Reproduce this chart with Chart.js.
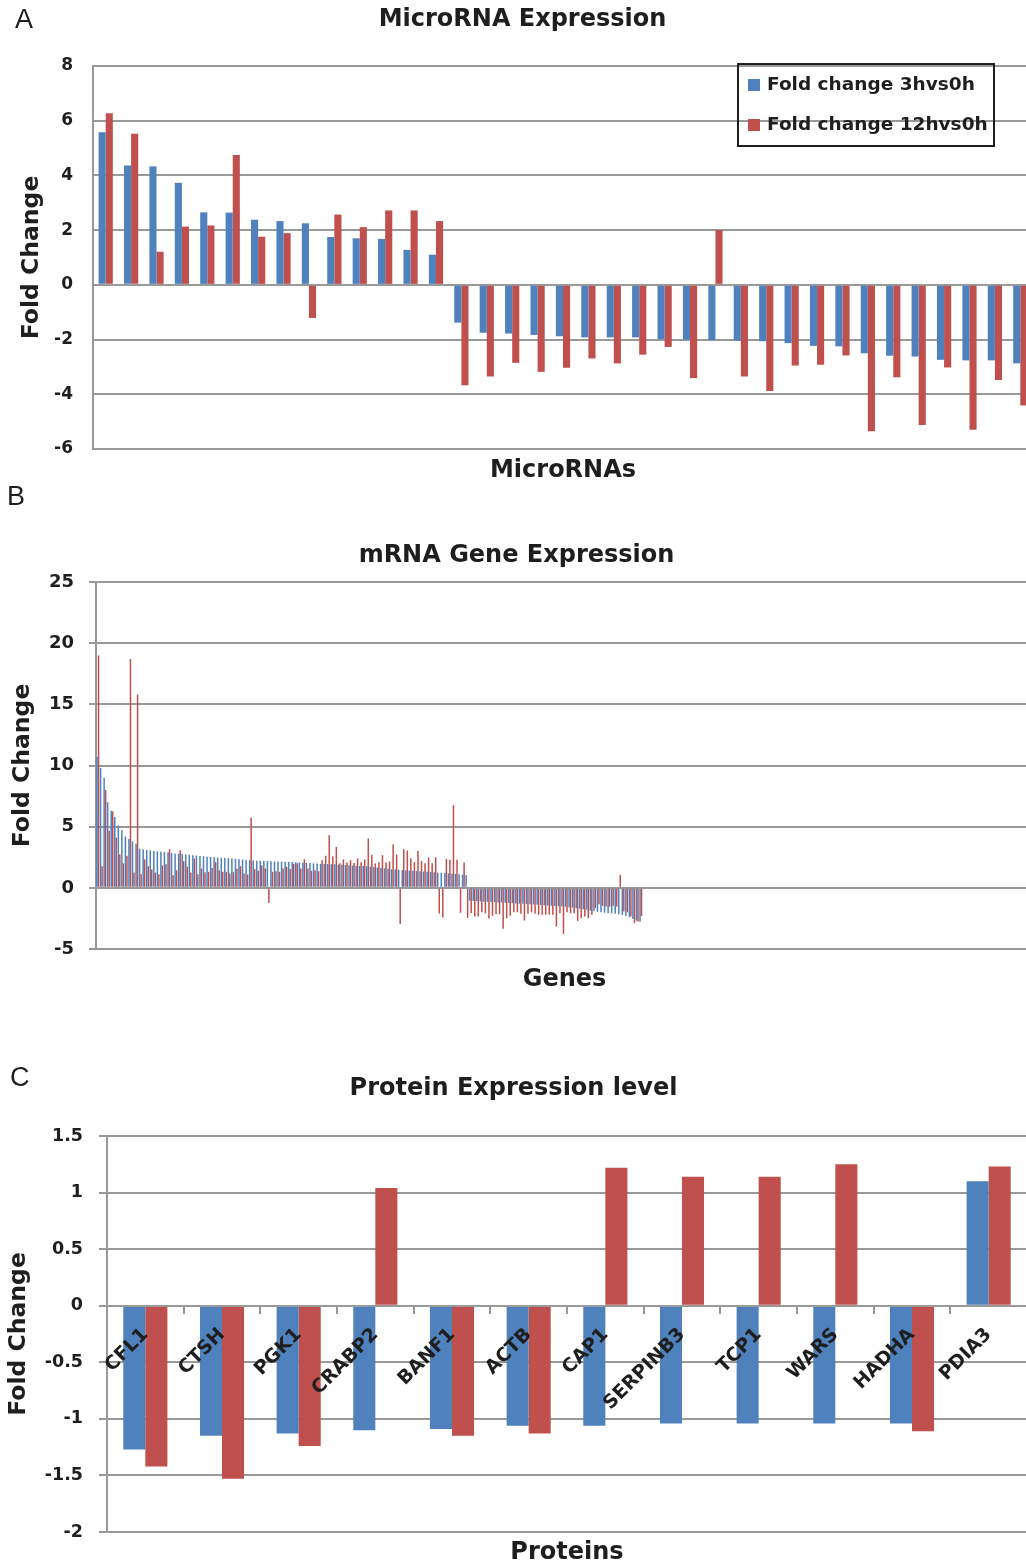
<!DOCTYPE html>
<html>
<head>
<meta charset="utf-8">
<script src="https://cdn.jsdelivr.net/npm/chart.js@4.4.0/dist/chart.umd.min.js"></script>
<style>
  html, body { margin: 0; padding: 0; background: #ffffff; overflow: hidden; width: 1026px; height: 1568px; }
  canvas { position: absolute; left: 0; display: block; }
  .lab { position: absolute; font-family: "Liberation Sans", Arial, sans-serif; font-size: 27px; line-height: 27px; color: #1e1e1e; }
</style>
</head>
<body>
<canvas id="chartA" width="1040" height="495" style="top:0px"></canvas>
<canvas id="chartB" width="1040" height="510" style="top:500px"></canvas>
<canvas id="chartC" width="1040" height="528" style="top:1040px"></canvas>
<div class="lab" style="left:15px;top:6px">A</div>
<div class="lab" style="left:7px;top:483px">B</div>
<div class="lab" style="left:10px;top:1064px">C</div>
<script>
// ---------------- DATA ----------------
const seriesNames = ['Fold change 3hvs0h', 'Fold change 12hvs0h'];

// Panel A: microRNAs (37 microRNAs, names not shown on the axis)
const miRNA_3h = [5.58, 4.36, 4.33, 3.73, 2.65, 2.64, 2.38, 2.33, 2.25, 1.75, 1.70, 1.68, 1.28, 1.10,
  -1.38, -1.75, -1.78, -1.83, -1.88, -1.92, -1.92, -1.92, -1.99, -2.00, -2.02, -2.04, -2.06, -2.13,
  -2.23, -2.25, -2.50, -2.59, -2.62, -2.74, -2.76, -2.76, -2.87];
const miRNA_12h = [6.27, 5.52, 1.21, 2.13, 2.17, 4.75, 1.76, 1.89, -1.21, 2.57, 2.11, 2.72, 2.72, 2.33,
  -3.67, -3.35, -2.85, -3.18, -3.03, -2.69, -2.87, -2.55, -2.27, -3.41, 2.00, -3.35, -3.88, -2.95,
  -2.92, -2.58, -5.35, -3.38, -5.12, -3.02, -5.30, -3.48, -4.41];
const miRNA_ticks = [-6, -4, -2, 0, 2, 4, 6, 8];

// Panel B: mRNA genes (154 genes)
const gene_3h = [10.7, 9.8, 9.0, 7.0, 6.3, 5.8, 5.1, 4.7, 4.2, 4.0, 3.8, 3.6, 3.2, 3.15, 3.1, 3.06, 3.02, 2.98, 2.95, 2.92,
  2.88, 2.85, 2.81, 2.78, 2.76, 2.73, 2.70, 2.67, 2.64, 2.61, 2.58, 2.55, 2.52, 2.50, 2.48, 2.46, 2.44, 2.42, 2.40, 2.37,
  2.34, 2.31, 2.28, 2.26, 2.24, 2.22, 2.21, 2.20, 2.19, 2.17, 2.16, 2.15, 2.14, 2.13, 2.12, 2.11, 2.10, 2.08, 2.06, 2.04,
  2.02, 2.00, 1.98, 1.96, 1.95, 1.94, 1.93, 1.92, 1.90, 1.88, 1.86, 1.84, 1.82, 1.80, 1.79, 1.78, 1.76, 1.73, 1.70, 1.66,
  1.63, 1.60, 1.56, 1.52, 1.49, 1.47, 1.45, 1.43, 1.41, 1.39, 1.37, 1.35, 1.33, 1.31, 1.29, 1.27, 1.25, 1.23, 1.21, 1.19,
  1.16, 1.14, 1.11, 1.08, 1.05,
  -1.05, -1.07, -1.09, -1.11, -1.13, -1.14, -1.16, -1.17, -1.19, -1.20, -1.22, -1.24, -1.26, -1.28, -1.30, -1.31, -1.33,
  -1.34, -1.36, -1.38, -1.40, -1.42, -1.44, -1.46, -1.48, -1.50, -1.52, -1.55, -1.58, -1.62, -1.66, -1.70, -1.75, -1.80,
  -1.86, -1.92, -1.97, -2.00, -2.03, -2.06, -2.09, -2.12, -2.16, -2.22, -2.30, -2.40, -2.55, -2.68, -2.78];
const gene_12h = [19.0, 1.77, 8.0, 4.66, 6.24, 4.1, 2.72, 2.0, 2.62, 18.7, 1.25, 15.8, 1.12, 2.32, 1.77, 1.5, 1.25, 1.12, 1.83, 1.93,
  3.16, 1.03, 1.44, 3.08, 2.18, 1.72, 1.25, 2.4, 1.12, 1.58, 1.28, 1.31, 1.63, 2.1, 1.44, 1.31, 1.31, 1.17, 1.28, 1.55,
  1.77, 1.17, 1.09, 5.75, 1.53, 1.39, 1.83, 1.58, -1.23, 1.31, 1.36, 1.31, 1.58, 1.72, 1.53, 1.96, 2.0, 1.58, 2.34, 1.58,
  1.39, 1.44, 1.36, 2.26, 2.62, 4.3, 2.59, 3.35, 2.0, 2.32, 2.07, 2.26, 2.04, 2.4, 2.1, 2.32, 4.03, 2.7, 2.0, 2.1,
  2.67, 2.07, 2.15, 3.57, 2.72, -2.95, 3.15, 3.05, 2.42, 2.1, 3.02, 2.2, 2.0, 2.48, 2.0, 2.5, -2.1, -2.43, 2.37, 2.29,
  6.75, 2.29, -2.04, 2.07, -2.45,
  -2.07, -2.34, -2.34, -2.0, -2.07, -2.5, -2.29, -2.15, -2.15, -3.35, -2.48, -2.29, -2.0, -2.0, -2.12, -2.67, -2.12,
  -2.0, -2.12, -2.2, -2.2, -2.2, -2.2, -2.2, -3.16, -2.07, -3.76, -1.99, -2.07, -2.07, -2.7, -2.48, -2.34, -2.48,
  -2.2, -1.66, -1.34, -1.47, -1.53, -1.53, -1.47, -1.53, 1.06, -1.93, -2.0, -2.34, -2.89, -2.75, -2.29];
const gene_ticks = [-5, 0, 5, 10, 15, 20, 25];

// Panel C: proteins
const proteins = ['CFL1', 'CTSH', 'PGK1', 'CRABP2', 'BANF1', 'ACTB', 'CAP1', 'SERPINB3', 'TCP1', 'WARS', 'HADHA', 'PDIA3'];
const protein_3h = [-1.27, -1.15, -1.13, -1.10, -1.09, -1.06, -1.06, -1.04, -1.04, -1.04, -1.04, 1.10];
const protein_12h = [-1.42, -1.53, -1.24, 1.04, -1.15, -1.13, 1.22, 1.14, 1.14, 1.25, -1.11, 1.23];
const protein_ticks = [-2, -1.5, -1, -0.5, 0, 0.5, 1, 1.5];

// ---------------- STYLE ----------------
const BLUE = '#4F81BD';
const RED = '#C0504D';
const TXT = '#1e1e1e';
const GRID = '#999999';
const FONT = "'DejaVu Sans', 'Liberation Sans', sans-serif";
Chart.defaults.font.family = FONT;
Chart.defaults.color = TXT;
Chart.defaults.animation = false;

const bold = (size) => ({ family: FONT, size: size, weight: 'bold' });
const plainNumber = (v) => String(v);

// legend drawn inside the plot area of panel A, from the datasets
const insideLegend = {
  id: 'insideLegend',
  afterDraw(chart, args, o) {
    const ctx = chart.ctx;
    ctx.save();
    ctx.lineWidth = o.borderWidth;
    ctx.strokeStyle = o.borderColor;
    ctx.strokeRect(o.x, o.y, o.w, o.h);
    ctx.font = 'bold ' + o.fontSize + 'px ' + FONT;
    ctx.textBaseline = 'middle';
    ctx.textAlign = 'left';
    chart.data.datasets.forEach((ds, i) => {
      const cy = o.y + o.firstRow + i * o.rowGap;
      ctx.fillStyle = ds.backgroundColor;
      ctx.fillRect(o.x + o.markerX, cy - o.marker / 2, o.marker, o.marker);
      ctx.fillStyle = TXT;
      ctx.fillText(ds.label, o.x + o.textX, cy);
    });
    ctx.restore();
  }
};

// ---------------- PANEL A ----------------
new Chart(document.getElementById('chartA'), {
  type: 'bar',
  data: {
    labels: miRNA_3h.map((_, i) => 'miRNA ' + (i + 1)),
    datasets: [
      { label: seriesNames[0], data: miRNA_3h, backgroundColor: BLUE, categoryPercentage: 0.56, barPercentage: 1 },
      { label: seriesNames[1], data: miRNA_12h, backgroundColor: RED, categoryPercentage: 0.56, barPercentage: 1 }
    ]
  },
  plugins: [insideLegend],
  options: {
    responsive: false,
    layout: { padding: { left: 12, right: 7, top: 0, bottom: 0 } },
    plugins: {
      legend: { display: false },
      tooltip: { enabled: false },
      title: { display: true, text: 'MicroRNA Expression', font: bold(24), color: TXT, padding: { top: 5.6, bottom: 31.6 } },
      insideLegend: { x: 738, y: 64, w: 256, h: 82, borderWidth: 2, borderColor: '#1e1e1e', fontSize: 18.5,
        firstRow: 21, rowGap: 40, marker: 12, markerX: 10, textX: 29 }
    },
    scales: {
      x: {
        ticks: { display: false },
        grid: { display: false },
        border: { display: false },
        title: { display: true, text: 'MicroRNAs', font: bold(24), color: TXT, padding: { top: 0, bottom: 9.6 } },
        afterFit: (s) => { s.height = 46; }
      },
      y: {
        min: miRNA_ticks[0], max: miRNA_ticks[miRNA_ticks.length - 1],
        afterBuildTicks: (s) => { s.ticks = miRNA_ticks.map(v => ({ value: v })); },
        ticks: { font: bold(17), color: TXT, padding: 20, callback: plainNumber },
        grid: { color: GRID, lineWidth: 2, drawTicks: false },
        border: { display: true, color: GRID, width: 2 },
        title: { display: true, text: 'Fold Change', font: bold(23.5), color: TXT, padding: { top: 5.9, bottom: 0 } },
        afterFit: (s) => { s.width = 81; }
      }
    }
  }
});

// ---------------- PANEL B ----------------
new Chart(document.getElementById('chartB'), {
  type: 'bar',
  data: {
    datasets: [
      { label: seriesNames[0], data: gene_3h.map((v, i) => ({ x: i, y: v })), backgroundColor: BLUE, categoryPercentage: 0.85, barPercentage: 1 },
      { label: seriesNames[1], data: gene_12h.map((v, i) => ({ x: i, y: v })), backgroundColor: RED, categoryPercentage: 0.85, barPercentage: 1 }
    ]
  },
  options: {
    responsive: false,
    layout: { padding: { left: 0, right: 7, top: 0, bottom: 0 } },
    plugins: {
      legend: { display: false },
      tooltip: { enabled: false },
      title: { display: true, text: 'mRNA Gene Expression', font: bold(24), color: TXT, padding: { top: 41.6, bottom: 11.6 } }
    },
    scales: {
      x: {
        type: 'linear', offset: false, min: -0.5, max: 263.5,
        ticks: { display: false },
        grid: { display: false },
        border: { display: false },
        title: { display: true, text: 'Genes', font: bold(24), color: TXT, padding: { top: 0, bottom: 15.6 } },
        afterFit: (s) => { s.height = 61; }
      },
      y: {
        min: gene_ticks[0], max: gene_ticks[gene_ticks.length - 1],
        afterBuildTicks: (s) => { s.ticks = gene_ticks.map(v => ({ value: v })); },
        ticks: { font: bold(18), color: TXT, padding: 15, callback: plainNumber },
        grid: { color: GRID, lineWidth: 2, drawTicks: true, tickLength: 7 },
        border: { display: true, color: GRID, width: 2 },
        title: { display: true, text: 'Fold Change', font: bold(23.5), color: TXT, padding: { top: 8.4, bottom: 0 } },
        afterFit: (s) => { s.width = 96; }
      }
    }
  }
});

// ---------------- PANEL C ----------------
new Chart(document.getElementById('chartC'), {
  type: 'bar',
  data: {
    labels: proteins,
    datasets: [
      { label: seriesNames[0], data: protein_3h, backgroundColor: BLUE, categoryPercentage: 0.575, barPercentage: 1 },
      { label: seriesNames[1], data: protein_12h, backgroundColor: RED, categoryPercentage: 0.575, barPercentage: 1 }
    ]
  },
  options: {
    responsive: false,
    layout: { padding: { left: 0, right: 13, top: 0, bottom: 0 } },
    plugins: {
      legend: { display: false },
      tooltip: { enabled: false },
      title: { display: true, text: 'Protein Expression level', font: bold(24), color: TXT, padding: { top: 34.6, bottom: 32.6 } },
      subtitle: { display: true, text: 'Proteins', position: 'bottom', fullSize: false, font: bold(24), color: TXT, padding: { top: 6.6, bottom: 0.6 } }
    },
    scales: {
      x: {
        position: { y: 0 },
        ticks: { z: 2, autoSkip: false, minRotation: 45, maxRotation: 45, font: bold(19), color: TXT, padding: 11 },
        grid: { display: true, drawOnChartArea: false, drawTicks: true, tickLength: 7, color: GRID, lineWidth: 2, offset: true },
        border: { display: true, color: GRID, width: 2, z: 1 },
        afterFit: (s) => { s.height = 0; }
      },
      y: {
        min: protein_ticks[0], max: protein_ticks[protein_ticks.length - 1],
        afterBuildTicks: (s) => { s.ticks = protein_ticks.map(v => ({ value: v })); },
        ticks: { font: bold(17.5), color: TXT, padding: 16, callback: plainNumber },
        grid: { color: GRID, lineWidth: 2, drawTicks: true, tickLength: 8 },
        border: { display: true, color: GRID, width: 2 },
        title: { display: true, text: 'Fold Change', font: bold(23.5), color: TXT, padding: { top: 4.9, bottom: 0 } },
        afterFit: (s) => { s.width = 107; }
      }
    }
  }
});
</script>
</body>
</html>
